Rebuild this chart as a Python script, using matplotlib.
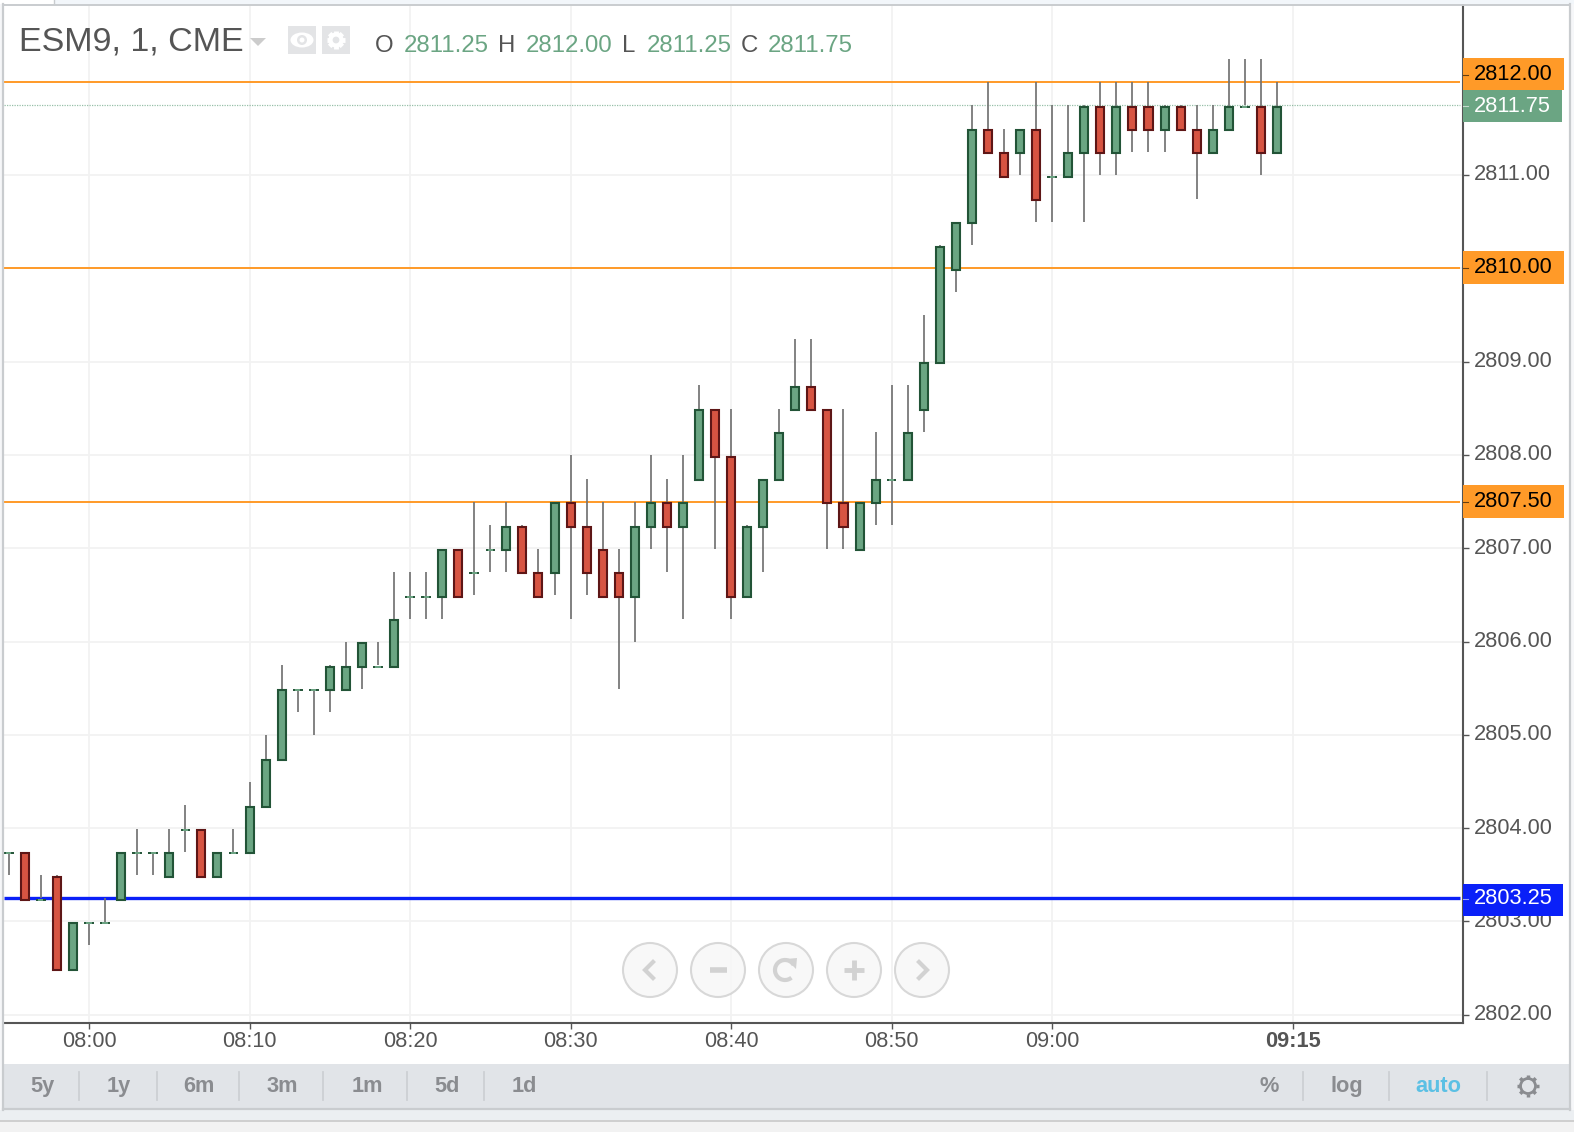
import matplotlib
matplotlib.use("Agg")
import matplotlib.pyplot as plt
from matplotlib.patches import Rectangle, Circle, Ellipse, Arc, Polygon
from matplotlib.transforms import Affine2D
import numpy as np

plt.rcParams["font.family"] = ["Liberation Sans", "DejaVu Sans"]

# minutes after 08:00, ten candles per row below
minutes = list(range(-5, 75))
opens = [
    2803.75, 2803.75, 2803.25, 2803.5, 2802.5, 2803, 2803, 2803.25, 2803.75, 2803.75,
    2803.5, 2804, 2804, 2803.5, 2803.75, 2803.75, 2804.25, 2804.75, 2805.5, 2805.5,
    2805.5, 2805.5, 2805.75, 2805.75, 2805.75, 2806.5, 2806.5, 2806.5, 2807, 2806.75,
    2807, 2807, 2807.25, 2806.75, 2806.75, 2807.5, 2807.25, 2807, 2806.75, 2806.5,
    2807.25, 2807.5, 2807.25, 2807.75, 2808.5, 2808, 2806.5, 2807.25, 2807.75, 2808.5,
    2808.75, 2808.5, 2807.5, 2807, 2807.5, 2807.75, 2807.75, 2808.5, 2809, 2810,
    2810.5, 2811.5, 2811.25, 2811.25, 2811.5, 2811, 2811, 2811.25, 2811.75, 2811.25,
    2811.75, 2811.75, 2811.5, 2811.75, 2811.5, 2811.25, 2811.5, 2811.75, 2811.75, 2811.25,
]
highs = [
    2803.75, 2803.75, 2803.5, 2803.5, 2803, 2803, 2803.25, 2803.75, 2804, 2803.75,
    2804, 2804.25, 2804, 2803.75, 2804, 2804.5, 2805, 2805.75, 2805.5, 2805.5,
    2805.75, 2806, 2806, 2806, 2806.75, 2806.75, 2806.75, 2807, 2807, 2807.5,
    2807.25, 2807.5, 2807.25, 2807, 2807.5, 2808, 2807.75, 2807.5, 2807, 2807.5,
    2808, 2807.75, 2808, 2808.75, 2808.5, 2808.5, 2807.25, 2807.75, 2808.5, 2809.25,
    2809.25, 2808.5, 2808.5, 2807.5, 2808.25, 2808.75, 2808.75, 2809.5, 2810.25, 2810.5,
    2811.75, 2812, 2811.5, 2811.5, 2812, 2811.75, 2811.75, 2811.75, 2812, 2812,
    2812, 2812, 2811.75, 2811.75, 2811.75, 2811.75, 2812.25, 2812.25, 2812.25, 2812,
]
lows = [
    2803.5, 2803.25, 2803.25, 2802.5, 2802.5, 2802.75, 2803, 2803.25, 2803.5, 2803.5,
    2803.5, 2803.75, 2803.5, 2803.5, 2803.75, 2803.75, 2804.25, 2804.75, 2805.25, 2805,
    2805.25, 2805.5, 2805.5, 2805.75, 2805.75, 2806.25, 2806.25, 2806.25, 2806.5, 2806.5,
    2806.75, 2806.75, 2806.75, 2806.5, 2806.5, 2806.25, 2806.5, 2806.5, 2805.5, 2806,
    2807, 2806.75, 2806.25, 2807.75, 2807, 2806.25, 2806.5, 2806.75, 2807.75, 2808.5,
    2808.5, 2807, 2807, 2807, 2807.25, 2807.25, 2807.75, 2808.25, 2809, 2809.75,
    2810.25, 2811.25, 2811, 2811, 2810.5, 2810.5, 2811, 2810.5, 2811, 2811,
    2811.25, 2811.25, 2811.25, 2811.5, 2810.75, 2811.25, 2811.5, 2811.75, 2811, 2811.25,
]
closes = [
    2803.75, 2803.25, 2803.25, 2802.5, 2803, 2803, 2803, 2803.75, 2803.75, 2803.75,
    2803.75, 2804, 2803.5, 2803.75, 2803.75, 2804.25, 2804.75, 2805.5, 2805.5, 2805.5,
    2805.75, 2805.75, 2806, 2805.75, 2806.25, 2806.5, 2806.5, 2807, 2806.5, 2806.75,
    2807, 2807.25, 2806.75, 2806.5, 2807.5, 2807.25, 2806.75, 2806.5, 2806.5, 2807.25,
    2807.5, 2807.25, 2807.5, 2808.5, 2808, 2806.5, 2807.25, 2807.75, 2808.25, 2808.75,
    2808.5, 2807.5, 2807.25, 2807.5, 2807.75, 2807.75, 2808.25, 2809, 2810.25, 2810.5,
    2811.5, 2811.25, 2811, 2811.5, 2810.75, 2811, 2811.25, 2811.75, 2811.25, 2811.75,
    2811.5, 2811.5, 2811.75, 2811.5, 2811.25, 2811.5, 2811.75, 2811.75, 2811.25, 2811.75,
]

y_ticks = [2802, 2803, 2804, 2805, 2806, 2807, 2808, 2809, 2810, 2811]
x_ticks = [0, 10, 20, 30, 40, 50, 60, 75]
x_labels = ["08:00", "08:10", "08:20", "08:30", "08:40", "08:50", "09:00", "09:15"]
orange_levels = [2812, 2810, 2807.5]
blue_level = 2803.25
last_price = 2811.75
header_values = ["2811.25", "2812.00", "2811.25", "2811.75"]
left_buttons = ["5y", "1y", "6m", "3m", "1m", "5d", "1d"]
right_buttons = ["%", "log", "auto"]

W, H = 1574, 1132
TEXT = "#555555"
GREEN = "#6ba583"
GREEN_EDGE = "#225437"
RED = "#d75442"
RED_EDGE = "#5e1616"
ORANGE = "#ff9a28"
BLUE = "#0a20f8"
GRID = "#f2f2f2"
BORDER = "#c9cccf"

fig = plt.figure(figsize=(W / 100, H / 100), dpi=100, facecolor="#f6f7f9")

# flat backgrounds go under the pane so tick labels stay visible
bg = fig.add_axes([0, 0, 1, 1], zorder=0)
bg.set_xlim(0, W)
bg.set_ylim(H, 0)
bg.axis("off")
bg.add_patch(Rectangle((4, 5), 1565, 1059, color="white", lw=0))

# main price pane
ax = fig.add_axes([4 / W, 1 - 1023 / H, (1463 - 4) / W, (1023 - 5) / H], zorder=2)
ax.set_xlim((4 - 89) / 16.053, (1463 - 89) / 16.053)
ax.set_ylim(2811 - (1023 - 175) / 93.3, 2811 + (175 - 5) / 93.3)
ax.set_axisbelow(True)
ax.grid(True, color=GRID, lw=1.3)
ax.set_xticks(x_ticks)
ax.set_xticklabels(x_labels)
ax.set_yticks(y_ticks)
# the 2810.00 tick sits behind its orange tag, the tag carries the text
ax.set_yticklabels(["" if v == 2810 else "%.2f" % v for v in y_ticks])
ax.yaxis.tick_right()
ax.tick_params(axis="both", colors=TEXT, labelsize=15.7, length=4, width=1)
ax.tick_params(axis="y", pad=4)
ax.tick_params(axis="x", pad=1.5)
ax.get_xticklabels()[-1].set_fontweight("bold")
for lab in ax.get_yticklabels():
    lab.set_transform(lab.get_transform() + Affine2D().translate(0, 2.5))
for side in ["top", "left"]:
    ax.spines[side].set_visible(False)
for side in ["right", "bottom"]:
    ax.spines[side].set_color(TEXT)
    ax.spines[side].set_linewidth(1.5)

# level lines stop a little short of the price axis
line_end = (1460 - 89) / 16.053
line_start = (4 - 89) / 16.053
ax.hlines(orange_levels, line_start, line_end, color=ORANGE, lw=1.4, zorder=2)
ax.hlines(blue_level, line_start, line_end, color=BLUE, lw=2.4, zorder=2)
ax.hlines(last_price, line_start, line_end, color=GREEN, lw=0.9, ls=(0, (1, 1)), alpha=0.7, zorder=2)

# bodies sit just under the grid in the original, about 2 pixels, wicks less
body_tr = ax.transData + Affine2D().translate(0, -1.8)
wick_tr = ax.transData + Affine2D().translate(0, -0.4)
ax.vlines(minutes, lows, highs, color="#737373", lw=1.25, zorder=3, transform=wick_tr)
for m, o, c in zip(minutes, opens, closes):
    if c == o:
        ax.hlines(o, m - 0.3, m + 0.3, color=GREEN_EDGE, lw=1.4, zorder=4, transform=body_tr)
        ax.hlines(o, m - 0.16, m + 0.16, color=GREEN, lw=1.4, zorder=5, transform=body_tr)
    else:
        up = c > o
        ax.bar(m, abs(c - o), bottom=min(o, c), width=0.5,
               color=GREEN if up else RED,
               edgecolor=GREEN_EDGE if up else RED_EDGE, lw=1.5, zorder=4, transform=body_tr)

# everything around the pane is placed in pixels on a see-through overlay
ov = fig.add_axes([0, 0, 1, 1], zorder=3)
ov.set_xlim(0, W)
ov.set_ylim(H, 0)
ov.axis("off")
ov.patch.set_alpha(0)

ov.add_patch(Rectangle((0, 0), W, 4, color="#f2f6fa", lw=0))
ov.add_patch(Rectangle((0, 0), 54, 4, color="white", lw=0))
ov.plot([54, 54], [0, 4], color=BORDER, lw=1)
ov.plot([3, 1570], [4.5, 4.5], color=BORDER, lw=1.4)
ov.plot([3.2, 3.2], [4, 1110], color=BORDER, lw=1.6)
ov.plot([1570, 1570], [4, 1110], color=BORDER, lw=1.6)

# toolbar
ov.add_patch(Rectangle((4, 1064), 1565, 44, color="#e1e4e8", lw=0))
ov.plot([3, 1570], [1109, 1109], color=BORDER, lw=1.6)
ov.add_patch(Rectangle((0, 1110), W, 10, color="#eceff2", lw=0))
ov.add_patch(Rectangle((0, 1120), W, 2, color="#cfcfcf", lw=0))
ov.add_patch(Rectangle((0, 1122), W, 10, color="#f2f2f2", lw=0))
for x, s in zip([42, 119, 199, 282, 367, 447, 524], left_buttons):
    ov.text(x, 1086.5, s, ha="center", va="center", fontsize=15.7, fontweight="bold", color="#8a8c90")
for x, s, col in zip([1269, 1347, 1438], right_buttons, ["#8a8c90", "#8a8c90", "#5bc0e4"]):
    ov.text(x, 1086.5, s, ha="center", va="center", fontsize=15.7, fontweight="bold", color=col)
for x in [79, 157, 239, 323, 407, 484, 1303, 1389, 1487]:
    ov.plot([x, x], [1072, 1100], color="#cdd0d4", lw=1.3)


def gear(x, y, r, col, lw):
    ov.add_patch(Circle((x, y), r, fill=False, ec=col, lw=lw))
    for a in np.arange(0, 360, 45):
        ca, sa = np.cos(np.radians(a)), np.sin(np.radians(a))
        ov.plot([x + r * ca, x + (r + 3.5) * ca], [y + r * sa, y + (r + 3.5) * sa],
                color=col, lw=lw + 0.5, solid_capstyle="butt")


gear(1528, 1086, 7.5, "#8a8c90", 2)

# header
ov.text(19, 42, "ESM9, 1, CME", fontsize=24.5, color=TEXT, va="center", ha="left")
ov.add_patch(Polygon([[250, 38], [266, 38], [258, 46]], color="#cccccc", lw=0))
ov.add_patch(Rectangle((288, 26), 28, 28, color="#e3e4e6", lw=0))
ov.add_patch(Rectangle((322, 26), 28, 28, color="#e3e4e6", lw=0))
ov.add_patch(Ellipse((302, 40), 23, 15, fc="white", lw=0))
ov.add_patch(Circle((302, 40), 5, fc="#e3e4e6", lw=0))
ov.add_patch(Circle((302, 40), 2.5, fc="white", lw=0))
gear(336, 40, 5.5, "white", 3)
for x, s in zip([374.5, 498, 622, 741], "OHLC"):
    ov.text(x, 46, s, fontsize=17.3, color=TEXT, va="center", ha="left")
for x, s in zip([403.6, 526, 646.6, 768], header_values):
    ov.text(x, 46, s, fontsize=17.3, color=GREEN, va="center", ha="left")

# price labels on the axis
tags = [
    (58, 90, 1564, ORANGE, "2812.00", "black", 74.5),
    (90, 122, 1562, GREEN, "2811.75", "white", 106),
    (251, 284, 1564, ORANGE, "2810.00", "black", 267.5),
    (485, 518, 1564, ORANGE, "2807.50", "black", 501.5),
    (884, 916, 1563, BLUE, "2803.25", "white", 898.5),
]
for top, bottom, right, col, s, tcol, ty in tags:
    ov.add_patch(Rectangle((1463, top), right - 1463, bottom - top, color=col, lw=0, zorder=5))
    ov.text(1474, ty, s, fontsize=15.7, color=tcol, va="center", ha="left", zorder=6)
    ov.plot([1463, 1468], [ty, ty], color=tcol, lw=0.8, alpha=0.6, zorder=6)

# navigation buttons
BTN = "#d2d2d2"
for x in [650, 718, 786, 854, 922]:
    ov.add_patch(Circle((x, 970), 27, fc="#f7f7f7", ec=BTN, lw=1.5, alpha=0.85))
ov.plot([653, 645, 653], [962, 970, 978], color=BTN, lw=3, solid_joinstyle="miter")
ov.plot([710, 727], [970, 970], color=BTN, lw=4, solid_capstyle="butt")
ov.add_patch(Arc((785, 970), 20, 20, theta1=50, theta2=330, ec=BTN, lw=3))
ov.add_patch(Polygon([[786, 959], [797, 958], [796, 969]], color=BTN, lw=0))
ov.plot([844, 864], [970, 970], color=BTN, lw=3.5, solid_capstyle="butt")
ov.plot([854, 854], [960, 980], color=BTN, lw=3.5, solid_capstyle="butt")
ov.plot([919, 927, 919], [962, 970, 978], color=BTN, lw=3, solid_joinstyle="miter")

fig.savefig("out.png", dpi=100, facecolor=fig.get_facecolor())
